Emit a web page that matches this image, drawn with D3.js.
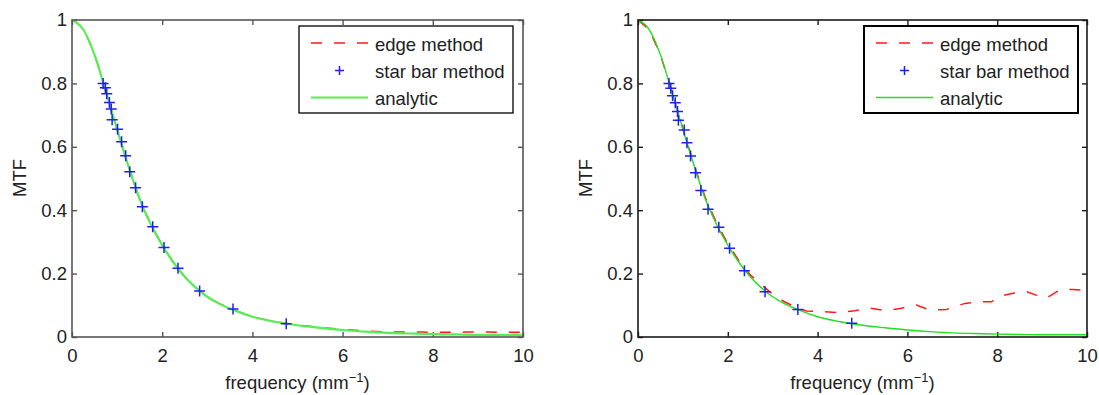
<!DOCTYPE html>
<html><head><meta charset="utf-8">
<script src="https://cdn.jsdelivr.net/npm/d3@7"></script>
<style>
body{margin:0;background:#fff}
text{font-family:"Liberation Sans",Arial,Helvetica,sans-serif;fill:#222}
</style>
</head><body>
<svg id="c" width="1099" height="395"></svg>
<script>
// ---------------- data ----------------
const xTicks = [0, 2, 4, 6, 8, 10];
const xTickLabels = ["0", "2", "4", "6", "8", "10"];
const yTicks = [0, 0.2, 0.4, 0.6, 0.8, 1];
const yTickLabels = ["0", "0.2", "0.4", "0.6", "0.8", "1"];
const legendLabels = ["edge method", "star bar method", "analytic"];

const analyticFreq = [0,0.25,0.5,0.75,1,1.25,1.5,1.75,2,2.25,2.5,2.75,3,3.25,3.5,3.75,4,4.5,5,5.5,6,6.5,7,7.5,8,8.5,9,9.5,10];
const analyticMTF  = [1,0.97,0.89,0.775,0.655,0.54,0.435,0.355,0.29,0.235,0.19,0.155,0.127,0.106,0.09,0.076,0.064,0.048,0.037,0.029,0.022,0.017,0.013,0.011,0.009,0.008,0.007,0.007,0.007];

const edgeLeftFreq = [0,0.25,0.5,0.75,1,1.25,1.5,1.75,2,2.25,2.5,2.75,3,3.25,3.5,3.75,4,4.5,5,5.5,6,6.5,7,7.5,8,8.5,9,9.5,10];
const edgeLeftMTF  = [1,0.97,0.89,0.776,0.656,0.541,0.436,0.357,0.291,0.236,0.191,0.156,0.128,0.107,0.091,0.077,0.065,0.049,0.038,0.03,0.024,0.019,0.016,0.016,0.015,0.015,0.016,0.015,0.015];

const edgeRightFreq = [0,0.25,0.5,0.75,1,1.25,1.5,1.75,2,2.25,2.5,2.75,3,3.25,3.5,3.75,4.1,4.5,4.83,5.17,5.54,5.87,6.2,6.5,6.87,7.28,7.61,7.87,8.06,8.35,8.65,8.87,9.09,9.39,9.69,10];
const edgeRightMTF  = [1,0.97,0.89,0.777,0.657,0.543,0.44,0.36,0.294,0.24,0.196,0.165,0.135,0.112,0.095,0.082,0.08,0.077,0.083,0.091,0.083,0.091,0.101,0.085,0.087,0.106,0.111,0.111,0.129,0.138,0.143,0.132,0.122,0.148,0.15,0.146];

const starLeftFreq = [0.69,0.74,0.77,0.83,0.87,0.89,1.01,1.10,1.19,1.28,1.41,1.56,1.79,2.04,2.35,2.83,3.57,4.75];
const starLeftMTF  = [0.80,0.786,0.767,0.740,0.719,0.685,0.655,0.616,0.572,0.521,0.471,0.411,0.348,0.282,0.217,0.145,0.088,0.042];

const starRightFreq = [0.69,0.73,0.77,0.83,0.88,0.90,1.03,1.09,1.17,1.28,1.40,1.56,1.80,2.04,2.37,2.83,3.56,4.76];
const starRightMTF  = [0.80,0.785,0.761,0.739,0.711,0.684,0.653,0.613,0.571,0.518,0.462,0.403,0.346,0.280,0.209,0.143,0.087,0.043];

// ---------------- drawing ----------------
const svg = d3.select("#c");
const FONT = 18.5;

function zip(a, b) { return a.map((v, i) => [v, b[i]]); }

function panel(o) {
  const x = d3.scaleLinear().domain([0, 10]).range([o.x0, o.x1]);
  const y = d3.scaleLinear().domain([0, 1]).range([337, 20]);
  const g = svg.append("g");
  const clipId = "clip" + o.id;
  svg.append("clipPath").attr("id", clipId).append("rect")
    .attr("x", o.x0).attr("y", 17).attr("width", o.x1 - o.x0 + 2).attr("height", 322);

  // axes (ticks inward on all four sides)
  const ax = (axis, tr) => g.append("g").attr("transform", tr).call(axis)
    .call(s => s.select(".domain").remove())
    .call(s => s.selectAll(".tick line").attr("stroke", o.axisColor).attr("stroke-width", 1.4))
    .call(s => s.selectAll("text").style("font-size", FONT + "px")
      .style("font-family", "'Liberation Sans',Arial,sans-serif").attr("fill", "#222"));

  ax(d3.axisBottom(x).tickValues(xTicks).tickFormat((d, i) => xTickLabels[i])
      .tickSizeInner(-5).tickSizeOuter(0).tickPadding(12), `translate(0,337)`);
  ax(d3.axisTop(x).tickValues(xTicks).tickFormat("")
      .tickSizeInner(-5).tickSizeOuter(0), `translate(0,20)`);
  ax(d3.axisLeft(y).tickValues(yTicks).tickFormat((d, i) => yTickLabels[i])
      .tickSizeInner(-5).tickSizeOuter(0).tickPadding(5), `translate(${o.x0},0)`);
  ax(d3.axisRight(y).tickValues(yTicks).tickFormat("")
      .tickSizeInner(-5).tickSizeOuter(0), `translate(${o.x1},0)`);

  const plot = g.append("g").attr("clip-path", `url(#${clipId})`);
  const line = d3.line().x(d => x(d[0])).y(d => y(d[1]));

  // edge method (red dashed)
  plot.append("path").datum(zip(o.edgeF, o.edgeM))
    .attr("d", line.curve(o.edgeCurve)).attr("fill", "none")
    .attr("stroke", "#ff1a1a").attr("stroke-width", 1.5).attr("stroke-dasharray", "11,12");

  // analytic (green)
  plot.append("path").datum(zip(analyticFreq, analyticMTF))
    .attr("d", d3.line().x(d => x(d[0])).y(d => y(d[1])).curve(d3.curveMonotoneX))
    .attr("fill", "none").attr("stroke", o.green).attr("stroke-width", o.greenW);

  // star bar method (blue +)
  const pts = zip(o.starF, o.starM);
  const s = 5.5;
  plot.selectAll(".plus").data(pts).join("path")
    .attr("d", d => { const px = x(d[0]), py = y(d[1]);
      return `M${px - s},${py}H${px + s}M${px},${py - s}V${py + s}`; })
    .attr("stroke", "#2020f0").attr("stroke-width", 1.5).attr("fill", "none");

  // box
  g.append("rect").attr("x", o.x0).attr("y", 20).attr("width", o.x1 - o.x0).attr("height", 317)
    .attr("fill", "none").attr("stroke", o.axisColor).attr("stroke-width", o.boxW);

  // axis labels
  const xl = g.append("text").attr("x", (o.x0 + o.x1) / 2).attr("y", 389)
    .attr("text-anchor", "middle").style("font-size", FONT + "px");
  xl.append("tspan").text("frequency (mm");
  xl.append("tspan").text("−1").attr("dy", -7).style("font-size", "13px");
  xl.append("tspan").text(")").attr("dy", 7);

  g.append("text").attr("transform", `translate(${o.x0 - 52},178) rotate(-90)`)
    .attr("text-anchor", "middle").attr("dy", "0.35em").style("font-size", FONT + "px").text("MTF");

  // legend
  const L = o.leg;
  const lg = g.append("g");
  lg.append("rect").attr("x", L.x).attr("y", 26).attr("width", 214).attr("height", 87)
    .attr("fill", "#fff").attr("stroke", "#000").attr("stroke-width", o.legW);
  const rows = [43, 70.5, 97.5];
  const sx0 = L.x + 12, sx1 = L.x + 69;
  lg.append("line").attr("x1", sx0).attr("x2", sx1).attr("y1", rows[0]).attr("y2", rows[0])
    .attr("stroke", "#ff1a1a").attr("stroke-width", 1.5).attr("stroke-dasharray", "11,12");
  const cx = (sx0 + sx1) / 2, ps = 4.5;
  lg.append("path").attr("d", `M${cx - ps},${rows[1]}H${cx + ps}M${cx},${rows[1] - ps}V${rows[1] + ps}`)
    .attr("stroke", "#2020f0").attr("stroke-width", 1.5);
  lg.append("line").attr("x1", sx0).attr("x2", sx1).attr("y1", rows[2]).attr("y2", rows[2])
    .attr("stroke", o.green).attr("stroke-width", o.greenW);
  lg.selectAll("text.lab").data(legendLabels).join("text").attr("class", "lab")
    .attr("x", L.x + 76).attr("y", (d, i) => rows[i] + 7.5)
    .style("font-size", FONT + "px").text(d => d);
}

panel({id: "L", x0: 72, x1: 523, axisColor: "#555", boxW: 1.6, legW: 1.3,
  green: "#55ee55", greenW: 2.2, edgeF: edgeLeftFreq, edgeM: edgeLeftMTF,
  edgeCurve: d3.curveMonotoneX, starF: starLeftFreq, starM: starLeftMTF, leg: {x: 299}});
panel({id: "R", x0: 638, x1: 1087, axisColor: "#1a1a1a", boxW: 1.6, legW: 2,
  green: "#22dd22", greenW: 1.4, edgeF: edgeRightFreq, edgeM: edgeRightMTF,
  edgeCurve: d3.curveLinear, starF: starRightFreq, starM: starRightMTF, leg: {x: 864}});
</script>
</body></html>
